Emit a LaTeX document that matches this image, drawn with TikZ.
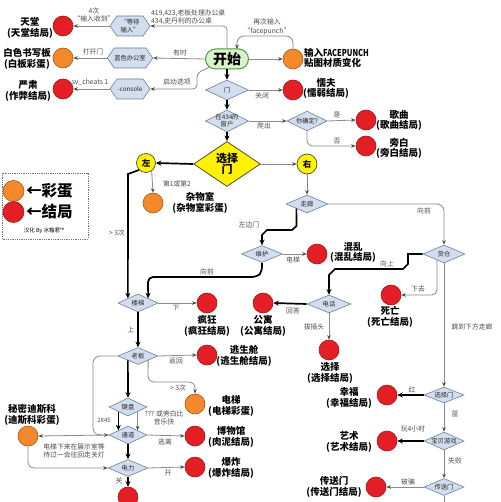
\documentclass[tikz,border=0pt]{standalone}
\usepackage{fontspec}
\setmainfont{Noto Sans CJK SC}
\usetikzlibrary{shapes.geometric,shapes.symbols,shapes.misc,arrows.meta,calc}
\definecolor{linegray}{HTML}{8A8A8A}
\definecolor{diafill}{HTML}{D2DDEE}
\definecolor{diaedge}{HTML}{6F7F98}
\definecolor{endred}{HTML}{E31E25}
\definecolor{reddark}{HTML}{9A1A1A}
\definecolor{eggorange}{HTML}{F3892A}
\definecolor{orangedark}{HTML}{A2561A}
\definecolor{startfill}{HTML}{DAF2CB}
\definecolor{startedge}{HTML}{4E9A3A}
\definecolor{yel}{HTML}{FFF200}
\tikzset{
  gl/.style={draw=linegray, line width=0.8pt, rounded corners=4pt, -{Stealth[length=4.5pt,width=3.6pt,color=black!70]}},
  bl/.style={draw=black, line width=1.7pt, -{Stealth[length=5.5pt,width=5pt]}},
  dia/.style={diamond, draw=diaedge, fill=diafill, line width=0.6pt, inner sep=0pt, minimum width=40pt, minimum height=18pt},
  dt/.style={font=\fontsize{6.3}{7.2}\selectfont, text=black!85, align=center, inner sep=0pt},
  hexa/.style={signal, signal to=east and west, signal pointer angle=110, draw=diaedge, fill=diafill, line width=0.6pt, inner sep=0pt, minimum width=40pt, minimum height=20pt, font=\fontsize{6.3}{7.2}\selectfont, text=black!85, align=center},
  endr/.style={circle, draw=reddark, fill=endred, line width=0.6pt, inner sep=0pt, minimum size=20pt},
  endo/.style={circle, draw=orangedark, fill=eggorange, line width=0.6pt, inner sep=0pt, minimum size=20pt},
  yc/.style={circle, draw=black!70, fill=yel, line width=0.7pt, inner sep=0pt, minimum size=19pt, font=\fontsize{8.5}{9}\selectfont\bfseries},
  et/.style={font=\fontsize{9.5}{10.6}\selectfont\bfseries, align=center, inner sep=0pt},
  lbl/.style={font=\fontsize{6.8}{8.2}\selectfont, text=black!70, align=center, inner sep=0pt},
  lgtext/.style={font=\fontsize{15.5}{16}\selectfont\bfseries, inner sep=0pt},
}
\begin{document}
\begin{tikzpicture}[x=1pt,y=-1pt]
\useasboundingbox (0,0) rectangle (500,502);
\fill[white] (0,0) rectangle (500,502);

% ---------- legend ----------
\draw[black!55, densely dotted, line width=0.8pt] (2,173) rectangle (88,239);
\node[endo, minimum size=21pt] (lgO) at (13.5,191) {};
\node[lgtext, anchor=west] (lgOt) at (26,191) {←彩蛋};
\node[endr, minimum size=21pt] (lgR) at (13.5,212) {};
\node[lgtext, anchor=west] (lgRt) at (26,212) {←结局};
\node[font=\fontsize{5.5}{6}\selectfont, inner sep=0pt] (credit) at (44,231) {汉化 By 冰箱君™};

% ---------- top-left ----------
\node[endr] (tiantang) at (63,26) {};
\node[et] (tiantangT) at (30,28) {天堂\\(天堂结局)};
\node[hexa] (wait) at (130,26) {“等待\\输入”};
\node[endo] (baiban) at (63,58) {};
\node[et] (baibanT) at (27,59) {白色书写板\\(白板彩蛋)};
\node[hexa] (blue) at (130,58) {蓝色办公室};
\node[endr] (yansu) at (63,89) {};
\node[et] (yansuT) at (28,91) {严肃\\(作弊结局)};
\node[hexa] (console) at (130,89) {-console};

\node[rounded rectangle, draw=startedge, fill=startfill, line width=1pt, minimum width=43pt, minimum height=20pt, inner sep=0pt, font=\fontsize{14}{14}\selectfont\bfseries] (kaishi) at (227,59) {开始};

\node[lbl, align=left, anchor=west] (note419) at (151,17) {419,423,老板处理办公桌\\434,史丹利的办公桌};
\draw[gl] (kaishi.north) -- (227,26) -- (wait.east);
\node[lbl] (l4ci) at (94,15) {4次\\“输入收到”};
\draw[gl] (wait.west) -- (tiantang.east);

\node[lbl] (lyoushi) at (180,53) {有时};
\draw[gl] (kaishi.west) -- (blue.east);
\node[lbl] (ldakai) at (93,52) {打开门};
\draw[gl] (blue.west) -- (baiban.east);

\node[lbl] (lqidong) at (177,82) {启动选项};
\draw[gl] (kaishi.205) -- (197,73) -- (197,89) -- (console.east);
\node[lbl] (lsv) at (90,82) {sv\_cheats 1};
\draw[gl] (console.west) -- (yansu.east);

% facepunch
\node[endo] (fp) at (293,59) {};
\node[et, align=left, anchor=west] (fpT) at (304,58) {输入\scalebox{0.78}[1]{FACEPUNCH}\\贴图材质变化};
\draw[gl] (kaishi.east) -- (fp.west);
\draw[gl, rounded corners=7pt] (fp.north) -- (293,36) -- (237,36) -- ($(kaishi.north)+(10,0.5)$);
\node[lbl] (lzaici) at (267,27) {再次输入\\“facepunch”};

% door
\node[dia, minimum width=43pt, minimum height=20pt, label={[dt]center:门}] (men) at (227,90) {};
\draw[bl] (kaishi.south) -- (men.north);
\node[endr] (nuofu) at (293,90) {};
\node[et] (nuofuT) at (326,88.5) {懦夫\\(懦弱结局)};
\draw[gl] (men.east) -- (nuofu.west);
\node[lbl] (lguanbi) at (262,96) {关闭};

% window
\node[dia, minimum width=43pt, minimum height=22pt, label={[dt]center:{在434的\\窗户}}] (win) at (227,121) {};
\draw[bl] (men.south) -- (win.north);
\node[dia, minimum width=40pt, minimum height=20pt, label={[dt]center:你确定?}] (sure) at (307,121) {};
\draw[gl] (win.east) -- (sure.west);
\node[lbl] (lpachu) at (264,126) {爬出};
\node[endr] (gequ) at (366,120) {};
\node[et] (gequT) at (399,120.5) {歌曲\\(歌曲结局)};
\draw[gl] (sure.east) -- (gequ.west);
\node[lbl] (lshi) at (337,115.5) {是};
\node[endr] (pangbai) at (366,146) {};
\node[et] (pangbaiT) at (399,148.5) {旁白\\(旁白结局)};
\draw[gl, rounded corners=6pt] (sure.south) |- (pangbai.west);
\node[lbl] (lfou) at (337,141) {否};

% choose door
\node[diamond, draw=black!70, fill=yel, line width=0.8pt, inner sep=0pt, minimum width=67pt, minimum height=45pt, label={[font=\fontsize{11}{11.5}\selectfont\bfseries, align=center, inner sep=0pt]center:{选择\\门}}] (xzm) at (227,164) {};
\draw[bl] (win.south) -- (xzm.north);
\node[yc] (zuo) at (146,163) {左};
\node[yc, minimum size=20pt] (you) at (307,164) {右};
\draw[bl] (xzm.west) -- (zuo.east);
\draw[gl] (xzm.east) -- (you.west);

\node[endo] (zawu) at (153,203) {};
\node[et] (zawuT) at (200,203) {杂物室\\(杂物室彩蛋)};
\draw[gl] (zuo.-55) -- (zawu.north);
\node[lbl] (l12) at (177,184) {第1或第2};

% corridor
\node[dia, minimum width=42pt, minimum height=18pt, label={[dt]center:走廊}] (zoulang) at (307,204) {};
\draw[gl] (you.south) -- (zoulang.north);
\node[dia, minimum width=42pt, minimum height=18pt, label={[dt]center:货仓}] (huocang) at (444,254) {};
\draw[gl, rounded corners=7pt] (zoulang.east) -| (huocang.north);
\node[lbl] (lxq1) at (424,211) {向前};

\node[dia, minimum width=41pt, minimum height=17pt, label={[dt]center:维护}] (weihu) at (262,254) {};
\draw[bl] (zoulang.south west) -- (296.5,226) -- (292,230) -- (267,230) -- (262,235) -- (weihu.north);
\node[lbl] (lzbm) at (249,225) {左边门};
\node[endr] (hunluan) at (317,254) {};
\node[et] (hunluanT) at (353,252.5) {混乱\\(混乱结局)};
\draw[gl] (weihu.east) -- (hunluan.west);
\node[lbl] (ldt1) at (293,260) {电梯};

% stairs
\node[dia, minimum width=40pt, minimum height=18pt, label={[dt]center:楼梯}] (louti) at (138,303) {};
\draw[bl] (zuo.225) -- (128,174) -- (louti.north west);
\node[lbl] (lgt3a) at (117,233) {> 3次};
\draw[bl, rounded corners=5pt] (weihu.south) -- (262,272) -- (257,277) -- (148,277) -- (louti.north east);
\node[lbl] (lxq2) at (207,272) {向前};
\node[endr] (fengkuang) at (207,303) {};
\node[et] (fengkuangT) at (207,326) {疯狂\\(疯狂结局)};
\draw[gl] (louti.east) -- (fengkuang.west);
\node[lbl] (lxia) at (176,308) {下};

% phone
\node[dia, minimum width=44pt, minimum height=18pt, label={[dt]center:电话}] (dianhua) at (329,304) {};
\draw[bl] (huocang.west) -- (408,254) -- (408,264) -- (403,269) -- (335,269) -- (329,275) -- (dianhua.north);
\node[lbl] (lxs) at (387,264) {向上};
\node[endr] (gongyu) at (263,303) {};
\node[et] (gongyuT) at (263,326) {公寓\\(公寓结局)};
\draw[bl] (dianhua.west) -- (gongyu.east);
\node[lbl] (lhd) at (293,311) {回答};
\node[endr] (xuanze) at (329,350) {};
\node[et] (xuanzeT) at (330,373) {选择\\(选择结局)};
\draw[gl] (dianhua.south) -- (xuanze.north);
\node[lbl] (lbct) at (314,327) {拔插头};

\node[endr] (siwang) at (391,295) {};
\node[et] (siwangT) at (390,317) {死亡\\(死亡结局)};
\draw[gl, rounded corners=5pt] ($(huocang.south)!0.33!(huocang.west)$) |- (siwang.east);
\node[lbl] (lxq) at (418,289) {下去};

% lower right
\node[dia, minimum width=40pt, minimum height=16pt, label={[dt]center:选择门}] (xzm2) at (444,395) {};
\draw[gl] (huocang.south) -- (xzm2.north);
\node[lbl] (ltiao) at (472,327) {跳到下方走廊};
\node[endr] (xingfu) at (387,395) {};
\node[et] (xingfuT) at (349,398) {幸福\\(幸福结局)};
\draw[bl] (xzm2.west) -- (xingfu.east);
\node[lbl] (lhong) at (412,390) {红};
\node[dia, minimum width=40pt, minimum height=18pt, label={[dt]center:宝贝游戏}] (baobei) at (444,441) {};
\draw[gl] (xzm2.south) -- (baobei.north);
\node[lbl] (llan) at (455,414) {蓝};
\node[endr] (yishu) at (387,441) {};
\node[et] (yishuT) at (349,442) {艺术\\(艺术结局)};
\draw[bl] (baobei.west) -- (yishu.east);
\node[lbl] (lwan) at (413,429) {玩4小时};
\node[dia, minimum width=40pt, minimum height=17pt, label={[dt]center:传送门}] (chuansong) at (444,487) {};
\draw[gl] (baobei.south) -- (chuansong.north);
\node[lbl] (lsb) at (455,461) {失败};
\node[endr] (csm) at (376,487) {};
\node[et] (csmT) at (334,487) {传送门\\(传送门结局)};
\draw[gl] (chuansong.west) -- (csm.east);
\node[lbl] (lbp) at (408,482) {被骗};
\coordinate (cbottom) at (444,503);
\draw[draw=linegray, line width=0.8pt] (chuansong.south) -- (cbottom);

% boss
\node[dia, minimum width=40pt, minimum height=17pt, label={[dt]center:老板}] (laoban) at (138,356) {};
\draw[bl] (louti.south) -- (laoban.north);
\node[lbl] (lshang) at (131,330) {上};
\node[endr] (taosheng) at (207,355) {};
\node[et] (taoshengT) at (244,356) {逃生舱\\(逃生舱结局)};
\draw[gl] (laoban.east) -- (taosheng.west);
\node[lbl] (lfh) at (176,361) {返回};
\node[endo] (dianti) at (195,404) {};
\node[et] (diantiT) at (231,406) {电梯\\(电梯彩蛋)};
\draw[gl, rounded corners=6pt] (laoban.south east) -- (148,382) -- (195,382) -- (dianti.north);
\node[lbl] (lgt3b) at (178,388) {> 3次};

\node[dia, minimum width=38pt, minimum height=18pt, label={[dt]center:键盘}] (jianpan) at (128,407) {};
\draw[bl] (laoban.south west) -- (jianpan.north);
\node[dia, minimum width=38pt, minimum height=18pt, label={[dt]center:通道}] (tongdao) at (128,435) {};
\draw[bl] (jianpan.south west) -- (tongdao.north west);
\draw[gl] (jianpan.south east) -- (tongdao.north east);
\node[lbl, font=\fontsize{6}{7}\selectfont] (l2845) at (104,420) {2845};
\node[lbl] (lqqq) at (164,418) {??? 或旁白比\\音乐快};
\draw[gl, rounded corners=7pt] (laoban.west) -- (93,356) -- (93,435) -- (tongdao.west);

\node[endr] (bowuguan) at (195,436) {};
\node[et] (bowuguanT) at (231,437) {博物馆\\(肉泥结局)};
\draw[gl] (tongdao.east) -- (bowuguan.west);
\node[lbl] (ltl) at (165,442) {逃离};

\node[endo] (disco) at (28,436) {};
\node[et] (discoT) at (32,415) {秘密迪斯科\\(迪斯科彩蛋)};
\draw[gl] (tongdao.west) -- (disco.east);
\node[lbl] (ldisco) at (74,451) {电梯下来在展示室等\\待过一会往回走关灯};

\node[dia, minimum width=40pt, minimum height=17pt, label={[dt]center:电力}] (dianli) at (128,468) {};
\draw[bl] (tongdao.south) -- (dianli.north);
\draw[gl, rounded corners=6pt] (disco.south) |- (dianli.west);
\node[endr] (baozha) at (195,467) {};
\node[et] (baozhaT) at (231,468) {爆炸\\(爆炸结局)};
\draw[gl] (dianli.east) -- (baozha.west);
\node[lbl] (lkai) at (168,473) {开};
\node[endr] (bottomred) at (128,497) {};
\draw[bl] (dianli.south) -- (bottomred.north);
\node[lbl] (lguan) at (119,481) {关};
\end{tikzpicture}
\end{document}
